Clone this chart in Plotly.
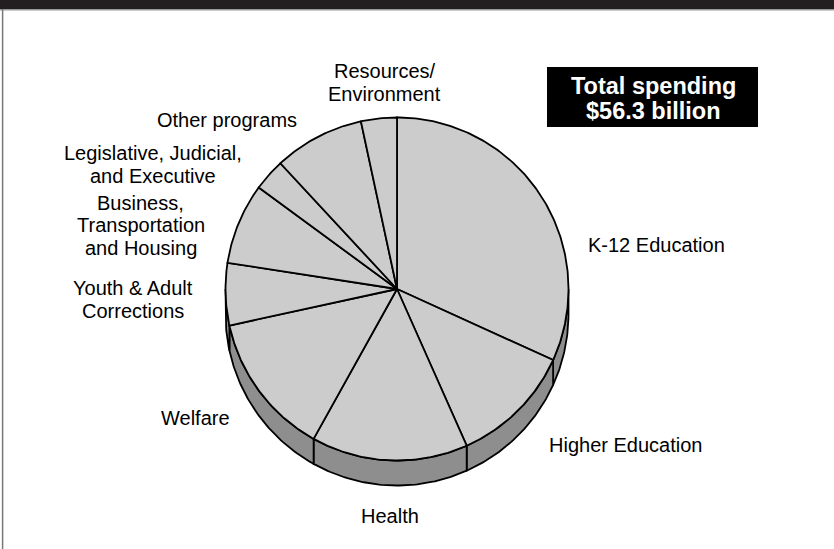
import math
import plotly.graph_objects as go

# State spending by program area, billions of dollars (clockwise from 12 o'clock)
categories = [
    "K-12 Education",
    "Higher Education",
    "Health",
    "Welfare",
    "Youth & Adult<br>Corrections",
    "Business,<br>Transportation<br>and Housing",
    "Legislative, Judicial,<br>and Executive",
    "Other programs",
    "Resources/<br>Environment",
]
spending_billions = [17.9, 6.5, 8.3, 7.6, 3.3, 4.3, 1.7, 4.8, 1.9]
total_lines = ["Total spending", "$56.3 billion"]

# Canvas and pie geometry (pixel space)
W, H = 834, 549
CX, CY, R, DEPTH = 397, 289, 171.5, 25
TOP_FILL = "#cccccc"
SIDE_FILL = "#8e8e8e"
EDGE = "#000000"
EDGE_W = 1.8
FONT = "Liberation Sans"
LABEL_SIZE = 20
BOX_SIZE = 23.5

# Label anchors: (x, anchor, baseline y at the middle of the text block)
label_pos = {
    "K-12 Education": (587, "left", 251.7),
    "Higher Education": (548, "left", 451.7),
    "Health": (390, "center", 523.3),
    "Welfare": (195.5, "center", 425),
    "Youth & Adult<br>Corrections": (133, "center", 306.4),
    "Business,<br>Transportation<br>and Housing": (140.5, "center", 232.3),
    "Legislative, Judicial,<br>and Executive": (153, "center", 171.7),
    "Other programs": (227, "center", 126.7),
    "Resources/<br>Environment": (384.7, "center", 89.2),
}
LINE_STEP = 22.6


def point(theta, dy=0.0):
    t = math.radians(theta)
    return CX + R * math.sin(t), CY - R * math.cos(t) + dy


def arc(a, b, dy=0.0):
    n = max(2, int(math.ceil(abs(b - a) / 0.75)) + 1)
    pts = [point(a + (b - a) * i / (n - 1), dy) for i in range(n)]
    return [p[0] for p in pts], [p[1] for p in pts]


total = sum(spending_billions)
angles = [0.0]
for v in spending_billions:
    angles.append(angles[-1] + 360.0 * v / total)

fig = go.Figure()

# Side wall of the disc (only the front half is visible)
for i, name in enumerate(categories):
    a, b = max(angles[i], 90.0), min(angles[i + 1], 270.0)
    if b <= a:
        continue
    tx, ty = arc(a, b)
    bx, by = arc(b, a, DEPTH)
    fig.add_trace(go.Scatter(
        x=tx + bx + [tx[0]], y=ty + by + [ty[0]],
        mode="lines", fill="toself", fillcolor=SIDE_FILL,
        line=dict(color=EDGE, width=EDGE_W),
        hoverinfo="skip", showlegend=False,
    ))

# Top face slices
for i, name in enumerate(categories):
    ax_, ay_ = arc(angles[i], angles[i + 1])
    fig.add_trace(go.Scatter(
        x=[CX] + ax_ + [CX], y=[CY] + ay_ + [CY],
        mode="lines", fill="toself", fillcolor=TOP_FILL,
        line=dict(color=EDGE, width=EDGE_W),
        hoverinfo="skip", showlegend=False, name=name.replace("<br>", " "),
    ))

annotations = []
base_shift = 0.35 * LABEL_SIZE
for name in categories:
    x, anchor, ymid = label_pos[name]
    lines = name.split("<br>")
    y0 = ymid - LINE_STEP * (len(lines) - 1) / 2.0
    for k, line in enumerate(lines):
        annotations.append(dict(
            x=x, y=y0 + k * LINE_STEP - base_shift, xref="x", yref="y",
            text=line, showarrow=False, xanchor=anchor, yanchor="middle",
            borderpad=0,
            font=dict(family=FONT, size=LABEL_SIZE, color="#000000"),
        ))

box_shift = 0.35 * BOX_SIZE
for k, line in enumerate(total_lines):
    annotations.append(dict(
        x=653.5, y=94.3 + k * 25 - box_shift, xref="x", yref="y",
        text="<b>" + line + "</b>", showarrow=False,
        xanchor="center", yanchor="middle", borderpad=0,
        font=dict(family=FONT, size=BOX_SIZE, color="#ffffff"),
    ))

shapes = [
    dict(type="rect", xref="x", yref="y", x0=0, x1=W, y0=0, y1=9,
         fillcolor="#231f20", line=dict(width=0), layer="below"),
    dict(type="line", xref="x", yref="y", x0=0, x1=W, y0=9.7, y1=9.7,
         line=dict(color="#9a9a9a", width=1.5)),
    dict(type="line", xref="x", yref="y", x0=2.6, x1=2.6, y0=9, y1=H,
         line=dict(color="#777777", width=1.5)),
    dict(type="rect", xref="x", yref="y", x0=547, x1=758, y0=67, y1=127,
         fillcolor="#000000", line=dict(width=0), layer="below"),
]

fig.update_layout(
    width=W, height=H,
    margin=dict(l=0, r=0, t=0, b=0),
    paper_bgcolor="#ffffff", plot_bgcolor="#ffffff",
    xaxis=dict(range=[0, W], visible=False, fixedrange=True),
    yaxis=dict(range=[H, 0], visible=False, fixedrange=True),
    shapes=shapes, annotations=annotations,
    showlegend=False,
)

fig.write_html("out.html", config={"displayModeBar": False})
